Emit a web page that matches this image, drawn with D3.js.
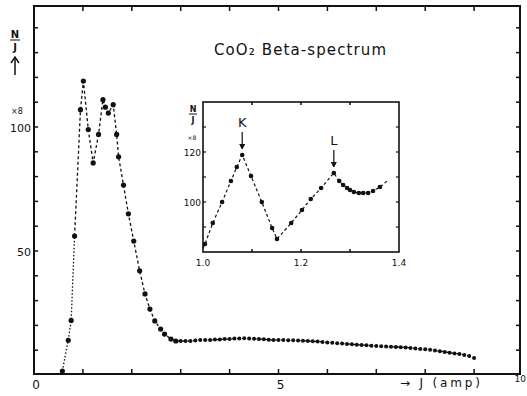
<!DOCTYPE html>
<html>
<head>
<meta charset="utf-8">
<script src="https://cdn.jsdelivr.net/npm/d3@7"></script>
<style>
  body { margin: 0; background: #fff; }
  svg { display: block; }
  text { font-family: "DejaVu Sans", sans-serif; fill: #111; }
</style>
</head>
<body>
<svg id="chart" width="527" height="396"></svg>
<script>
// main spectrum, J (amp) vs N/J
const mainJ = [0.58, 0.70, 0.76, 0.83, 0.95, 1.01, 1.11, 1.21, 1.32, 1.41, 1.46, 1.52, 1.62, 1.69, 1.73,
  1.83, 1.93, 2.04, 2.16, 2.27, 2.37, 2.47, 2.59, 2.67, 2.80, 2.90];
const mainN = [1.6, 14, 22, 56, 107, 118.5, 99, 85.5, 97, 111, 108, 105.6, 109, 97, 88,
  76.6, 65, 54, 42, 32.7, 26.6, 21.8, 18.5, 16.5, 14.5, 13.7];
// flat tail, every 0.1 amp from 3.0 to 9.0
const tailJ = [3.0, 3.1, 3.2, 3.3, 3.4, 3.5, 3.6, 3.7, 3.8, 3.9, 4.0, 4.1, 4.2, 4.3, 4.4, 4.5, 4.6, 4.7, 4.8, 4.9,
  5.0, 5.1, 5.2, 5.3, 5.4, 5.5, 5.6, 5.7, 5.8, 5.9, 6.0, 6.1, 6.2, 6.3, 6.4, 6.5, 6.6, 6.7, 6.8, 6.9,
  7.0, 7.1, 7.2, 7.3, 7.4, 7.5, 7.6, 7.7, 7.8, 7.9, 8.0, 8.1, 8.2, 8.3, 8.4, 8.5, 8.6, 8.7, 8.8, 8.9, 9.0];
const tailN = [13.7, 13.7, 13.7, 13.9, 14.1, 14.1, 14.1, 14.3, 14.3, 14.5, 14.5, 14.7, 14.7, 14.8, 14.7, 14.6, 14.5, 14.4, 14.2, 14.1,
  14.1, 14.1, 14.0, 14.0, 13.9, 13.8, 13.7, 13.6, 13.5, 13.3, 13.1, 13.0, 12.8, 12.7, 12.5, 12.4, 12.2, 12.1, 12.0, 11.8,
  11.7, 11.6, 11.5, 11.4, 11.3, 11.2, 11.1, 10.9, 10.7, 10.5, 10.4, 10.2, 9.9, 9.6, 9.3, 9.0, 8.7, 8.5, 8.1, 7.7, 6.9];

// inset: K and L edges
const insetJ = [1.004, 1.020, 1.039, 1.057, 1.069, 1.080, 1.098, 1.120, 1.141, 1.151, 1.180, 1.202, 1.220,
  1.241, 1.267, 1.278, 1.286, 1.294, 1.300, 1.308, 1.318, 1.327, 1.337, 1.347, 1.361];
const insetN = [83.2, 91.6, 100, 108.4, 114, 118.8, 110.4, 100, 89.6, 85.2, 91.6, 96.8, 101.2,
  105.6, 111.6, 108.4, 106.8, 105.6, 104.8, 104, 103.6, 103.6, 103.6, 104.4, 106];
const insetLineEnd = { j: 1.378, n: 108.8 };

const mainXTicks = [0, 5, 10];
const mainYTicks = [50, 100];
const insetXTicks = ['1.0', '1.2', '1.4'];
const insetYTicks = [100, 120];
const edges = [{ label: 'K', j: 1.080, n: 118.8 }, { label: 'L', j: 1.267, n: 111.6 }];

const svg = d3.select('#chart');

const x = d3.scaleLinear().domain([0, 10]).range([34, 523]);
const y = d3.scaleLinear().domain([0, 150]).range([375, 3]);
const frame = { left: 34, right: 520, top: 6, bottom: 374 };

// main frame
svg.append('rect')
  .attr('x', frame.left).attr('y', frame.top)
  .attr('width', frame.right - frame.left).attr('height', frame.bottom - frame.top)
  .attr('fill', 'none').attr('stroke', '#111').attr('stroke-width', 2);

const ticks = svg.append('g').attr('stroke', '#111').attr('stroke-width', 1.5);
d3.range(1, 10).forEach(v => {
  ticks.append('line').attr('x1', x(v)).attr('x2', x(v)).attr('y1', frame.bottom).attr('y2', frame.bottom - 5);
  ticks.append('line').attr('x1', x(v)).attr('x2', x(v)).attr('y1', frame.top).attr('y2', frame.top + 5);
});
d3.range(10, 150, 10).forEach(v => {
  ticks.append('line').attr('x1', frame.left).attr('x2', frame.left + 4).attr('y1', y(v)).attr('y2', y(v));
  ticks.append('line').attr('x1', frame.right).attr('x2', frame.right - 4).attr('y1', y(v)).attr('y2', y(v));
});

svg.selectAll('.xlab').data(mainXTicks).enter().append('text')
  .attr('x', d => d === 10 ? 526 : x(d) + 2)
  .attr('y', d => d === 10 ? 382 : 389)
  .attr('text-anchor', d => d === 10 ? 'end' : 'middle')
  .attr('font-size', d => d === 10 ? 9 : 12)
  .text(d => d);

svg.selectAll('.ylab').data(mainYTicks).enter().append('text')
  .attr('x', frame.left - 3)
  .attr('y', d => y(d) + 5)
  .attr('text-anchor', 'end')
  .attr('font-size', 11)
  .text(d => d);

svg.append('text').attr('x', 17).attr('y', y(107) + 4).attr('text-anchor', 'middle')
  .attr('font-size', 8).text('×8');

// N/J label with arrow
svg.append('text').attr('x', 15).attr('y', 38).attr('text-anchor', 'middle').attr('font-size', 10).attr('font-weight', 'bold').text('N');
svg.append('line').attr('x1', 10).attr('x2', 20).attr('y1', 40).attr('y2', 40).attr('stroke', '#111');
svg.append('text').attr('x', 15).attr('y', 51).attr('text-anchor', 'middle').attr('font-size', 10).attr('font-weight', 'bold').text('J');
svg.append('line').attr('x1', 15).attr('x2', 15).attr('y1', 75).attr('y2', 58).attr('stroke', '#111').attr('stroke-width', 1.5);
svg.append('path').attr('d', 'M11,63 L15,57 L19,63').attr('fill', 'none').attr('stroke', '#111').attr('stroke-width', 1.5);

svg.append('text').attr('x', 400).attr('y', 387).attr('font-size', 12).attr('textLength', 80)
  .text('→ J  (amp)');

svg.append('text').attr('x', 214).attr('y', 55).attr('font-size', 15).attr('textLength', 172)
  .text('CoO₂  Beta-spectrum');

// main curve
const mainPts = mainJ.map((j, i) => ({ j, n: mainN[i] }));
const tailPts = tailJ.map((j, i) => ({ j, n: tailN[i] }));
const line = d3.line().x(d => x(d.j)).y(d => y(d.n));

svg.append('path').datum(mainPts.slice(0, 4))
  .attr('d', line).attr('fill', 'none').attr('stroke', '#111').attr('stroke-width', 1.3)
  .attr('stroke-dasharray', '1.5,2');
svg.append('path').datum(mainPts.slice(3).concat(tailPts))
  .attr('d', line).attr('fill', 'none').attr('stroke', '#111').attr('stroke-width', 1.3)
  .attr('stroke-dasharray', '3,2.5');

svg.selectAll('.mdot').data(mainPts).enter().append('circle')
  .attr('cx', d => x(d.j)).attr('cy', d => y(d.n)).attr('r', 2.6).attr('fill', '#111');
svg.selectAll('.tdot').data(tailPts).enter().append('circle')
  .attr('cx', d => x(d.j)).attr('cy', d => y(d.n)).attr('r', 2).attr('fill', '#111');

// inset
const ix = d3.scaleLinear().domain([1.0, 1.4]).range([203, 399]);
const iy = d3.scaleLinear().domain([80, 140]).range([252, 102]);
const inset = svg.append('g');
inset.append('rect')
  .attr('x', ix(1.0)).attr('y', iy(140)).attr('width', ix(1.4) - ix(1.0)).attr('height', iy(80) - iy(140))
  .attr('fill', '#fff').attr('stroke', '#111').attr('stroke-width', 1.6);
[1.1, 1.2, 1.3].forEach(v => {
  inset.append('line').attr('x1', ix(v)).attr('x2', ix(v)).attr('y1', iy(80)).attr('y2', iy(80) - 3).attr('stroke', '#111').attr('stroke-width', 1.5);
  inset.append('line').attr('x1', ix(v)).attr('x2', ix(v)).attr('y1', iy(140)).attr('y2', iy(140) + 3).attr('stroke', '#111').attr('stroke-width', 1.5);
});
[90, 100, 110, 120, 130].forEach(v => {
  inset.append('line').attr('x1', ix(1.0)).attr('x2', ix(1.0) + 3).attr('y1', iy(v)).attr('y2', iy(v)).attr('stroke', '#111').attr('stroke-width', 1.2);
  inset.append('line').attr('x1', ix(1.4)).attr('x2', ix(1.4) - 3).attr('y1', iy(v)).attr('y2', iy(v)).attr('stroke', '#111').attr('stroke-width', 1.2);
});
inset.selectAll('.ixl').data(insetXTicks).enter().append('text')
  .attr('x', d => ix(+d)).attr('y', 266).attr('text-anchor', 'middle').attr('font-size', 9).text(d => d);
inset.selectAll('.iyl').data(insetYTicks).enter().append('text')
  .attr('x', ix(1.0) - 2).attr('y', d => iy(d) + 4).attr('text-anchor', 'end').attr('font-size', 9).text(d => d);
inset.append('text').attr('x', 192).attr('y', 140).attr('text-anchor', 'middle').attr('font-size', 6).text('×8');
inset.append('text').attr('x', 193).attr('y', 112).attr('text-anchor', 'middle').attr('font-size', 8).attr('font-weight', 'bold').text('N');
inset.append('line').attr('x1', 189).attr('x2', 197).attr('y1', 114).attr('y2', 114).attr('stroke', '#111');
inset.append('text').attr('x', 193).attr('y', 123).attr('text-anchor', 'middle').attr('font-size', 8).attr('font-weight', 'bold').text('J');

const insetPts = insetJ.map((j, i) => ({ j, n: insetN[i] }));
const iline = d3.line().x(d => ix(d.j)).y(d => iy(d.n));
inset.append('path').datum([{ j: 1.0, n: 81.5 }].concat(insetPts, [insetLineEnd]))
  .attr('d', iline).attr('fill', 'none').attr('stroke', '#111').attr('stroke-width', 1.2)
  .attr('stroke-dasharray', '3,2.5');
inset.selectAll('.idot').data(insetPts).enter().append('circle')
  .attr('cx', d => ix(d.j)).attr('cy', d => iy(d.n)).attr('r', 2.3).attr('fill', '#111');

edges.forEach(e => {
  const top = iy(e.n) - 26;
  inset.append('text').attr('x', ix(e.j)).attr('y', top - 2).attr('text-anchor', 'middle').attr('font-size', 13).text(e.label);
  inset.append('line').attr('x1', ix(e.j)).attr('x2', ix(e.j)).attr('y1', top + 3).attr('y2', iy(e.n) - 7).attr('stroke', '#111').attr('stroke-width', 1.2);
  inset.append('path').attr('d', `M${ix(e.j) - 2.5},${iy(e.n) - 11} L${ix(e.j)},${iy(e.n) - 6} L${ix(e.j) + 2.5},${iy(e.n) - 11}`)
    .attr('fill', '#111').attr('stroke', '#111');
});
</script>
</body>
</html>
